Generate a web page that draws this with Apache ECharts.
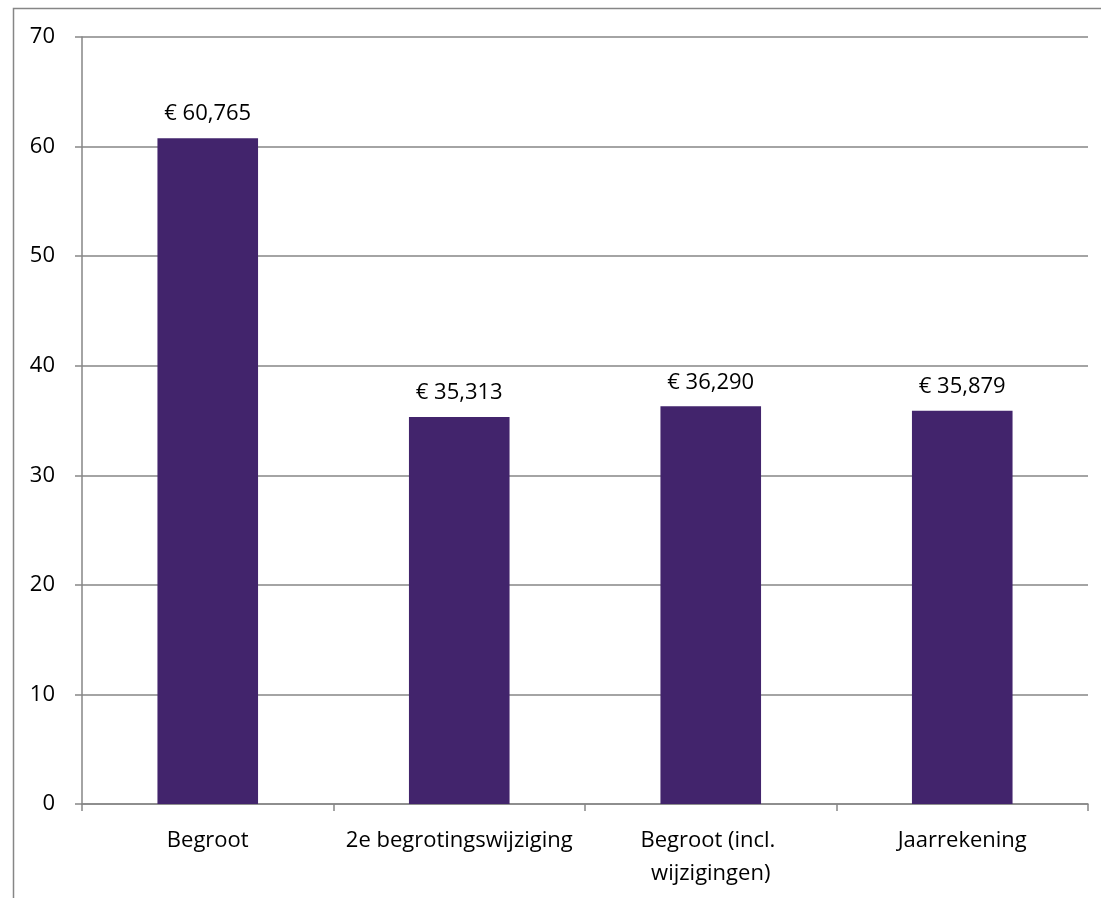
<!DOCTYPE html>
<html><head><meta charset="utf-8">
<script src="https://cdn.jsdelivr.net/npm/echarts@6/dist/echarts.min.js"></script>
<style>html,body{margin:0;padding:0;background:#fff}#c{width:1101px;height:898px}</style>
</head><body><div id="c"></div>
<script>
const categories = ['Begroot', '2e begrotingswijziging', 'Begroot (incl. wijzigingen)', 'Jaarrekening'];
const values = [60.765, 35.313, 36.290, 35.879];
const yTicks = [0, 10, 20, 30, 40, 50, 60, 70];

const chart = echarts.init(document.getElementById('c'), null, {renderer: 'canvas'});
const font = 'Open Sans';
chart.setOption({
  animation: false,
  graphic: [{
    type: 'polyline', silent: true,
    shape: {points: [[13.5, 898], [13.5, 8.5], [1101, 8.5]]},
    style: {stroke: '#868686', lineWidth: 1.5, fill: null}
  }],
  grid: {left: 82, right: 13, top: 37, bottom: 94, containLabel: false},
  xAxis: {
    type: 'category', data: categories,
    axisLine: {lineStyle: {color: '#868686', width: 1.5}},
    axisTick: {show: true, length: 7, lineStyle: {color: '#868686', width: 1.5}},
    axisLabel: {color: '#000', fontFamily: font, fontSize: 22, margin: 20, width: 250, overflow: 'break', lineHeight: 33, interval: 0}
  },
  yAxis: {
    type: 'value', min: yTicks[0], max: yTicks[yTicks.length - 1], interval: 10,
    axisLine: {show: true, lineStyle: {color: '#868686', width: 1.5}},
    axisTick: {show: true, length: 7, lineStyle: {color: '#868686', width: 1.5}},
    splitLine: {lineStyle: {color: '#868686', width: 1.5}},
    axisLabel: {color: '#000', fontFamily: font, fontSize: 22, margin: 27}
  },
  series: [{
    type: 'bar', data: values, barWidth: '40%',
    itemStyle: {color: '#42246C'},
    label: {show: true, position: 'top', distance: 13, color: '#000', fontFamily: font, fontSize: 22,
      formatter: p => '€ ' + p.value.toFixed(3).replace('.', ',')}
  }]
});
</script></body></html>
